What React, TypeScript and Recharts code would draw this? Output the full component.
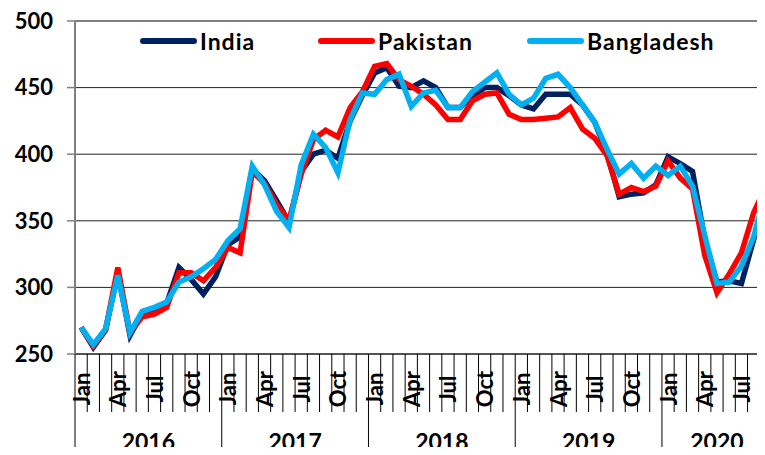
import { LineChart, Line, XAxis, YAxis, CartesianGrid, Legend, ReferenceLine } from 'recharts';

// Monthly series, Jan 2016 – Sep 2020
const years = [2016, 2017, 2018, 2019, 2020];
const monthNames = ['Jan', 'Feb', 'Mar', 'Apr', 'May', 'Jun', 'Jul', 'Aug', 'Sep', 'Oct', 'Nov', 'Dec'];
const monthsInLastYear = 9;
const labelledMonths = ['Jan', 'Apr', 'Jul', 'Oct'];
const yTicks = [250, 300, 350, 400, 450, 500];

const india = [
  270, 255, 268, 311, 264, 281, 284, 288, 315, 306, 295, 308,
  332, 338, 389, 380, 365, 349, 387, 400, 403, 397, 425, 444,
  461, 465, 451, 450, 455, 450, 435, 435, 444, 450, 450, 444,
  437, 434, 445, 445, 445, 437, 424, 401, 368, 370, 371, 377,
  398, 393, 387, 336, 304, 305, 303, 336, 365,
];
const pakistan = [
  270, 256, 268, 315, 266, 278, 280, 285, 311, 311, 305, 315,
  330, 326, 387, 378, 362, 350, 385, 411, 418, 413, 435, 447,
  466, 468, 456, 451, 445, 437, 426, 426, 440, 445, 446, 430,
  426, 426, 427, 428, 435, 419, 412, 399, 370, 375, 372, 376,
  395, 382, 374, 324, 296, 310, 326, 356, 376,
];
const bangladesh = [
  270, 257, 269, 309, 266, 282, 285, 289, 304, 308, 314, 321,
  335, 344, 391, 377, 357, 345, 392, 415, 405, 386, 426, 446,
  445, 456, 460, 436, 446, 448, 435, 435, 447, 454, 461, 445,
  437, 442, 457, 460, 450, 437, 424, 404, 385, 393, 382, 391,
  384, 391, 376, 339, 303, 304, 316, 338, 372,
];

const periods = years.flatMap((year, yi) =>
  monthNames
    .slice(0, yi === years.length - 1 ? monthsInLastYear : 12)
    .map((month) => ({ year, month }))
);

const data = periods.map((p, i) => ({
  key: `${p.month} ${p.year}`,
  month: p.month,
  year: p.year,
  india: india[i],
  pakistan: pakistan[i],
  bangladesh: bangladesh[i],
}));

const series = [
  { key: 'india', name: 'India', color: '#002060' },
  { key: 'pakistan', name: 'Pakistan', color: '#FF0000' },
  { key: 'bangladesh', name: 'Bangladesh', color: '#00B0F0' },
];

// layout
const CHART_W = 772;
const CHART_H = 455;
const TOP = 21;
const Y_AXIS_W = 75;
const X_AXIS_H = 101;
const AXIS_Y = CHART_H - X_AXIS_H;
const BAND = (CHART_W - Y_AXIS_W) / data.length;
const FONT = 'Lato, "Open Sans", sans-serif';

const MonthTick = (props: any) => {
  const { x } = props;
  const i = props.index ?? props.payload?.index ?? 0;
  const d = data[i];
  if (!d) return null;
  const left = x - BAND / 2;
  const isJan = d.month === 'Jan';
  const yearCount = data.filter((p) => p.year === d.year).length;
  const labelY = AXIS_Y + 35;
  return (
    <g>
      <line
        x1={left}
        x2={left}
        y1={AXIS_Y}
        y2={AXIS_Y + (isJan ? 96 : 58)}
        stroke="#000"
        strokeWidth={1}
      />
      {labelledMonths.includes(d.month) && (
        <text
          x={x}
          y={labelY}
          transform={`rotate(-90, ${x}, ${labelY})`}
          textAnchor="middle"
          dominantBaseline="central"
          fontFamily={FONT}
          fontWeight={700}
          fontSize={22}
          fill="#000"
        >
          {d.month}
        </text>
      )}
      {isJan && (
        <text
          x={left + (yearCount * BAND) / 2}
          y={450}
          textAnchor="middle"
          fontFamily={FONT}
          fontWeight={700}
          fontSize={23}
          fill="#000"
        >
          {d.year}
        </text>
      )}
    </g>
  );
};

const legendLeft = [140, 318, 527];

const renderLegend = () => (
  <div style={{ position: 'relative', height: 28, fontFamily: FONT }}>
    {series.map((s, i) => (
      <div
        key={s.key}
        style={{
          position: 'absolute',
          left: legendLeft[i],
          top: 0,
          height: 28,
          display: 'flex',
          alignItems: 'center',
          whiteSpace: 'nowrap',
        }}
      >
        <svg width={60} height={10}>
          <line x1={3} y1={5} x2={54} y2={5} stroke={s.color} strokeWidth={6} strokeLinecap="round" />
        </svg>
        <span style={{ fontSize: 23, fontWeight: 700, letterSpacing: 1, color: '#000' }}>{s.name}</span>
      </div>
    ))}
  </div>
);

export default function App() {
  return (
    <div style={{ margin: -8, width: 765, height: 455, overflow: 'hidden', background: '#fff', fontFamily: FONT }}>
      <LineChart
        width={CHART_W}
        height={CHART_H}
        data={data}
        margin={{ top: TOP, right: 0, left: 0, bottom: 0 }}
      >
        <CartesianGrid horizontal vertical={false} stroke="#222" strokeWidth={1} />
        <ReferenceLine y={500} stroke="#808080" strokeWidth={2} />
        <XAxis
          dataKey="key"
          height={X_AXIS_H}
          interval={0}
          padding={{ left: BAND / 2, right: BAND / 2 }}
          tickLine={false}
          axisLine={{ stroke: '#404040', strokeWidth: 1.5 }}
          tick={(props: any) => <MonthTick {...props} />}
        />
        <YAxis
          width={Y_AXIS_W}
          domain={[250, 500]}
          ticks={yTicks}
          interval={0}
          tickSize={8}
          tickMargin={14}
          axisLine={{ stroke: '#808080', strokeWidth: 2 }}
          tickLine={{ stroke: '#808080', strokeWidth: 1.5 }}
          tick={{ fill: '#000', fontSize: 22, fontWeight: 700, fontFamily: FONT }}
        />
        <Legend
          layout="horizontal"
          verticalAlign="middle"
          align="center"
          wrapperStyle={{ top: 27, left: 0, width: CHART_W }}
          content={renderLegend}
        />
        {series.map((s) => (
          <Line
            key={s.key}
            type="linear"
            dataKey={s.key}
            name={s.name}
            stroke={s.color}
            strokeWidth={5.5}
            dot={false}
            isAnimationActive={false}
          />
        ))}
      </LineChart>
    </div>
  );
}
